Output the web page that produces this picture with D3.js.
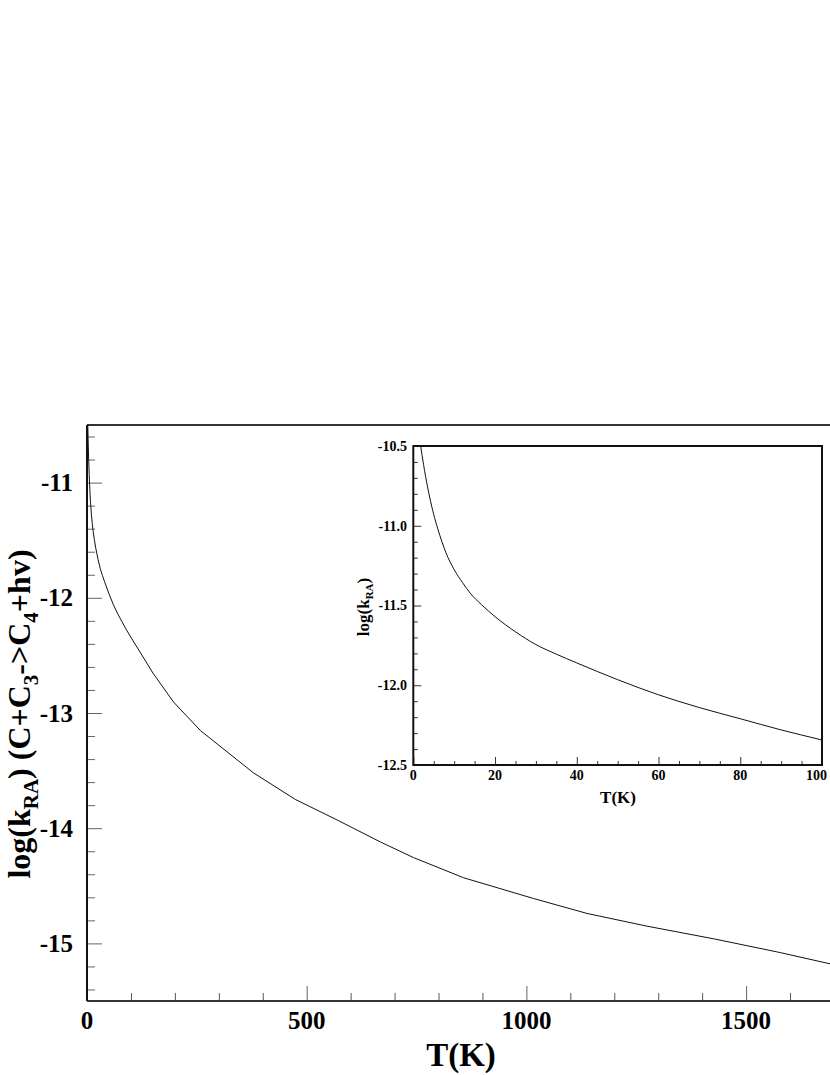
<!DOCTYPE html>
<html>
<head>
<meta charset="utf-8">
<script src="https://cdn.jsdelivr.net/npm/d3@7"></script>
<style>
html,body{margin:0;padding:0;background:#fff;}
svg text{font-family:"Liberation Serif","Times New Roman",serif;font-weight:bold;fill:#000;}
</style>
</head>
<body>
<svg id="chart" width="830" height="1075"></svg>
<script>
// ---- data ----
const temps = [1.8, 2.5, 3, 4, 5, 6, 7, 8, 10, 12, 14, 16.7, 20, 25, 30, 35, 40, 50, 60, 70, 80, 90, 100,
  150, 197, 258, 379, 474, 570, 668, 743, 857, 1016, 1138, 1274, 1426, 1578, 1700];
const logK = [-10.50, -10.615, -10.69, -10.82, -10.93, -11.02, -11.10, -11.17, -11.275, -11.355, -11.425, -11.495, -11.57, -11.665, -11.745, -11.805, -11.86, -11.965, -12.06, -12.14, -12.21, -12.28, -12.343,
  -12.653, -12.905, -13.152, -13.52, -13.75, -13.93, -14.12, -14.255, -14.43, -14.61, -14.74, -14.85, -14.96, -15.08, -15.185];
const mainXTicks = [0, 500, 1000, 1500];
const mainYTicks = [-15, -14, -13, -12, -11];
const insetXTicks = [0, 20, 40, 60, 80, 100];
const insetYTicks = [-12.5, -12.0, -11.5, -11.0, -10.5];

const data = temps.map((t, i) => ({t, v: logK[i]}));
const svg = d3.select("#chart");

// ---- main panel ----
const x = d3.scaleLinear().domain([0, 1700]).range([87, 87 + 1700 * 0.4394]);
const y = d3.scaleLinear().domain([-15.5, -10.5]).range([1001, 425]);

const main = svg.append("g");
function tickStyle(g, col) {
  g.select(".domain").remove();
  g.selectAll("line").attr("stroke", col).attr("stroke-width", 1);
}
// y axis ticks
main.append("g").attr("transform", `translate(${x(0)},0)`)
  .call(d3.axisRight(y).tickValues(d3.range(-15.4, -10.5, 0.2).filter(v => Math.abs(v - Math.round(v)) > 0.01)).tickSize(8).tickFormat(""))
  .call(g => tickStyle(g, "#666"));
main.append("g").attr("transform", `translate(${x(0)},0)`)
  .call(d3.axisRight(y).tickValues(mainYTicks).tickSize(15).tickFormat(""))
  .call(g => tickStyle(g, "#666"));
// x axis ticks
main.append("g").attr("transform", `translate(0,${y(-15.5)})`)
  .call(d3.axisTop(x).tickValues(d3.range(100, 1700, 100).filter(v => v % 500 !== 0)).tickSize(8).tickFormat(""))
  .call(g => tickStyle(g, "#555"));
main.append("g").attr("transform", `translate(0,${y(-15.5)})`)
  .call(d3.axisTop(x).tickValues(mainXTicks).tickSize(15).tickFormat(""))
  .call(g => tickStyle(g, "#666"));

// frame lines
main.append("line").attr("x1", x(0)).attr("x2", x(1700)).attr("y1", y(-10.5)).attr("y2", y(-10.5))
  .attr("stroke", "#333").attr("stroke-width", 2);
main.append("line").attr("x1", x(0)).attr("x2", x(1700)).attr("y1", y(-15.5)).attr("y2", y(-15.5))
  .attr("stroke", "#333").attr("stroke-width", 2);
main.append("line").attr("x1", x(0)).attr("x2", x(0)).attr("y1", y(-10.5)).attr("y2", y(-15.5))
  .attr("stroke", "#111").attr("stroke-width", 2);

// tick labels
main.selectAll("text.yl").data(mainYTicks).join("text").attr("class", "yl")
  .attr("x", 73).attr("y", d => y(d)).attr("dy", "0.34em").attr("text-anchor", "end")
  .attr("font-size", 25).text(d => String(d));
main.selectAll("text.xl").data(mainXTicks).join("text").attr("class", "xl")
  .attr("x", d => x(d)).attr("y", 1029).attr("text-anchor", "middle")
  .attr("font-size", 25).text(d => d);

// curve
const line = d3.line().x(d => x(d.t)).y(d => y(d.v));
main.append("path").datum(data).attr("d", line).attr("fill", "none")
  .attr("stroke", "#111").attr("stroke-width", 1);

// axis titles
main.append("text").attr("x", 461).attr("y", 1066).attr("text-anchor", "middle")
  .attr("font-size", 33).text("T(K)");
const yt = main.append("text").attr("transform", "translate(30,714) rotate(-90)")
  .attr("text-anchor", "middle").attr("font-size", 32);
yt.append("tspan").text("log(k");
yt.append("tspan").attr("font-size", 21).attr("dy", 8).text("RA");
yt.append("tspan").attr("dy", -8).text(")  (C+C");
yt.append("tspan").attr("font-size", 21).attr("dy", 8).text("3");
yt.append("tspan").attr("dy", -8).text("->C");
yt.append("tspan").attr("font-size", 21).attr("dy", 8).text("4");
yt.append("tspan").attr("dy", -8).text("+hv)");

// ---- inset ----
const xi = d3.scaleLinear().domain([0, 100]).range([413.3, 822]);
const yi = d3.scaleLinear().domain([-12.5, -10.5]).range([765, 446]);
const inset = svg.append("g");
inset.append("rect").attr("x", xi(0)).attr("y", yi(-10.5)).attr("width", xi(100) - xi(0)).attr("height", yi(-12.5) - yi(-10.5))
  .attr("fill", "#fff");

inset.append("g").attr("transform", `translate(${xi(0)},0)`)
  .call(d3.axisRight(yi).tickValues(d3.range(-12.4, -10.5, 0.1).filter(v => Math.abs(v * 2 - Math.round(v * 2)) > 0.01)).tickSize(4.5).tickFormat(""))
  .call(g => tickStyle(g, "#333"));
inset.append("g").attr("transform", `translate(${xi(0)},0)`)
  .call(d3.axisRight(yi).tickValues(insetYTicks).tickSize(8).tickFormat(""))
  .call(g => tickStyle(g, "#333"));
inset.append("g").attr("transform", `translate(0,${yi(-12.5)})`)
  .call(d3.axisTop(xi).tickValues(d3.range(5, 100, 5).filter(v => v % 20 !== 0)).tickSize(4).tickFormat(""))
  .call(g => tickStyle(g, "#333"));
inset.append("g").attr("transform", `translate(0,${yi(-12.5)})`)
  .call(d3.axisTop(xi).tickValues(insetXTicks).tickSize(8).tickFormat(""))
  .call(g => tickStyle(g, "#333"));

inset.append("rect").attr("x", xi(0)).attr("y", yi(-10.5)).attr("width", xi(100) - xi(0)).attr("height", yi(-12.5) - yi(-10.5))
  .attr("fill", "none").attr("stroke", "#111").attr("stroke-width", 2);

const linei = d3.line().x(d => xi(d.t)).y(d => yi(d.v)).curve(d3.curveMonotoneX);
inset.append("path").datum(data.filter(d => d.t <= 100)).attr("d", linei).attr("fill", "none")
  .attr("stroke", "#111").attr("stroke-width", 1);

inset.selectAll("text.yl").data(insetYTicks).join("text").attr("class", "yl")
  .attr("x", 407).attr("y", d => yi(d)).attr("dy", "0.34em").attr("text-anchor", "end")
  .attr("font-size", 14).text(d => d3.format(".1f")(d).replace("−", "-"));
inset.selectAll("text.xl").data(insetXTicks).join("text").attr("class", "xl")
  .attr("x", d => d === 100 ? 827 : xi(d)).attr("y", 780)
  .attr("text-anchor", d => d === 100 ? "end" : "middle")
  .attr("font-size", 14).text(d => d);

inset.append("text").attr("x", 618).attr("y", 803).attr("text-anchor", "middle")
  .attr("font-size", 17).text("T(K)");
const yti = inset.append("text").attr("transform", "translate(369,607) rotate(-90)")
  .attr("text-anchor", "middle").attr("font-size", 17);
yti.append("tspan").text("log(k");
yti.append("tspan").attr("font-size", 11).attr("dy", 4).text("RA");
yti.append("tspan").attr("dy", -4).text(")");
</script>
</body>
</html>
